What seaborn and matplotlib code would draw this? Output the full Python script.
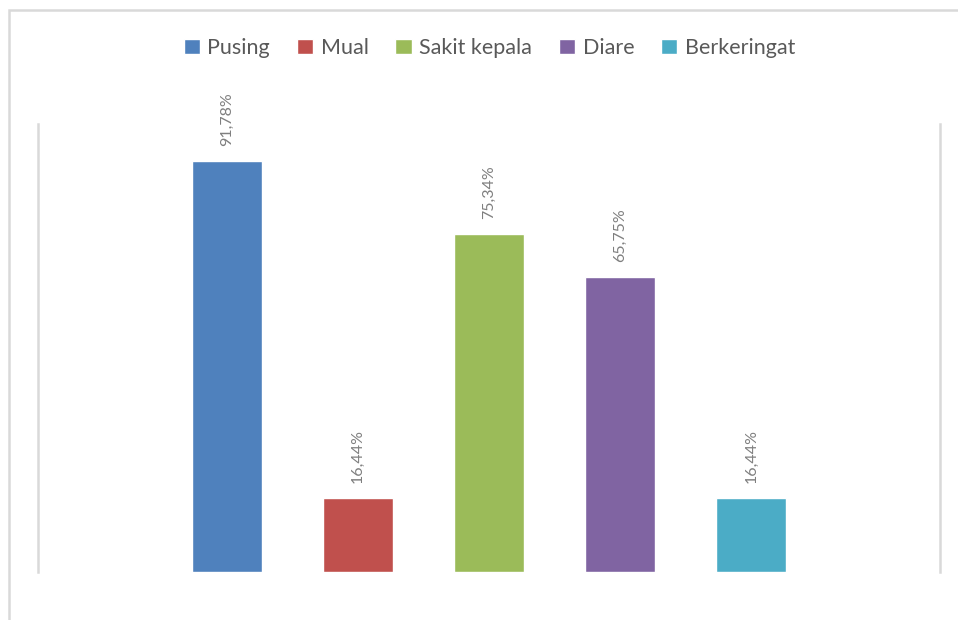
import matplotlib
matplotlib.use('Agg')
import matplotlib.pyplot as plt
import seaborn as sns
import pandas as pd
from matplotlib.patches import Rectangle

# data
gejala = ['Pusing', 'Mual', 'Sakit kepala', 'Diare', 'Berkeringat']
persen = [91.78, 16.44, 75.34, 65.75, 16.44]
warna = ['#4F81BD', '#C0504D', '#9BBB59', '#8064A2', '#4BACC6']

df = pd.DataFrame({'gejala': gejala, 'persen': persen})

sns.set_style('white')
plt.rcParams['font.family'] = ['Lato', 'DejaVu Sans']

fig = plt.figure(figsize=(9.58, 6.2), dpi=100)
ax = fig.add_axes([38/958, 48/620, 902/958, 448/620])

sns.barplot(data=df, x='gejala', y='persen', hue='gejala', palette=warna,
            width=0.534, dodge=False, saturation=1, legend=True, ax=ax)

for cont in ax.containers:
    ax.bar_label(cont, fmt=lambda v: f'{v:.2f}'.replace('.', ',') + '%',
                 rotation=90, padding=11, color='#7F7F7F', fontsize=11.5)

ax.set_ylim(0, 100)
ax.set_xlim(-1.44, 4.44 + 1)
ax.set_xlabel('')
ax.set_ylabel('')
ax.set_xticks([])
ax.set_yticks([])
for s in ['top', 'bottom']:
    ax.spines[s].set_visible(False)
for s in ['left', 'right']:
    ax.spines[s].set_color('#D9D9D9')
    ax.spines[s].set_linewidth(1.8)

handles, labels = ax.get_legend_handles_labels()
ax.get_legend().remove()
fig.legend(handles, labels, loc='center', ncol=5, frameon=False,
           bbox_to_anchor=(489.5/958, 1 - 48/620), fontsize=15.5,
           handlelength=0.75, handleheight=0.75, handletextpad=0.35,
           columnspacing=1.25, labelcolor='#595959')

# outer chart border
fig.patches.append(Rectangle((8.5/958, -0.1), 1.2, 1.1 - 9.5/620,
                             transform=fig.transFigure, fill=False,
                             edgecolor='#D9D9D9', linewidth=1.8))

fig.savefig('out.png', dpi=100)
